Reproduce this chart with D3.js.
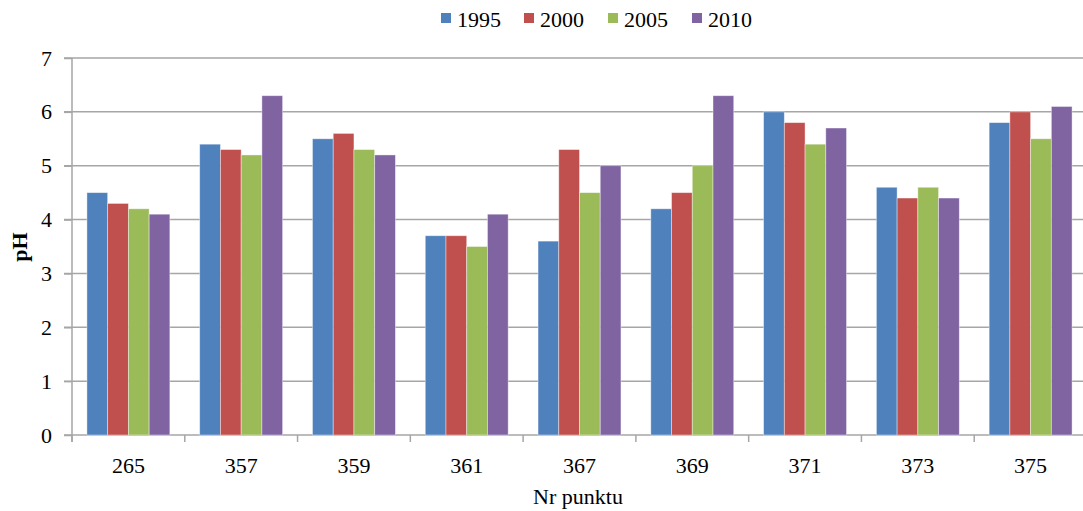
<!DOCTYPE html>
<html lang="pl">
<head>
<meta charset="UTF-8">
<title>pH</title>
<script src="https://d3js.org/d3.v7.min.js"></script>
<style>
  body { margin: 0; background: #fff; }
  svg text { font-family: "Liberation Serif", "DejaVu Serif", "Times New Roman", serif !important; fill: #000; }
</style>
</head>
<body>
<svg width="1083" height="511"></svg>
<script>
// data
const points = ["265", "357", "359", "361", "367", "369", "371", "373", "375"];
const years = ["1995", "2000", "2005", "2010"];
const v1995 = [4.5, 5.4, 5.5, 3.7, 3.6, 4.2, 6.0, 4.6, 5.8];
const v2000 = [4.3, 5.3, 5.6, 3.7, 5.3, 4.5, 5.8, 4.4, 6.0];
const v2005 = [4.2, 5.2, 5.3, 3.5, 4.5, 5.0, 5.4, 4.6, 5.5];
const v2010 = [4.1, 6.3, 5.2, 4.1, 5.0, 6.3, 5.7, 4.4, 6.1];
const yTicks = [0, 1, 2, 3, 4, 5, 6, 7];
const colors = ["#4F81BD", "#C0504D", "#9BBB59", "#8064A2"];

const series = [v1995, v2000, v2005, v2010];
const svg = d3.select("svg");
const grid = "#a6a6a6";

const x = d3.scaleBand().domain(points).range([72, 1087]).paddingInner(0).paddingOuter(0);
const inner = d3.scaleBand().domain(years).range([0, x.bandwidth()]).paddingOuter(0.72).paddingInner(0);
const y = d3.scaleLinear().domain([0, 7]).range([435, 58]);

// gridlines
svg.append("g").selectAll("line").data(yTicks).join("line")
  .attr("x1", 64).attr("x2", 1083)
  .attr("y1", d => y(d)).attr("y2", d => y(d))
  .attr("stroke", grid).attr("stroke-width", 1.5);

// bars
const groups = svg.append("g").selectAll("g").data(points).join("g")
  .attr("transform", d => `translate(${x(d)},0)`);
groups.selectAll("rect")
  .data((p, i) => years.map((yr, k) => ({ yr, k, v: series[k][i] })))
  .join("rect")
  .attr("x", d => inner(d.yr))
  .attr("width", inner.bandwidth())
  .attr("y", d => y(d.v))
  .attr("height", d => y(0) - y(d.v))
  .attr("fill", d => colors[d.k])
  .attr("stroke", "rgba(255,255,255,0.5)")
  .attr("stroke-width", 0.8);

// axes
const yAxis = svg.append("g").attr("transform", "translate(72,0)")
  .call(d3.axisLeft(y).tickValues(yTicks).tickSize(8).tickPadding(12).tickFormat(d3.format("d")));
const xAxis = svg.append("g").attr("transform", "translate(0,435)")
  .call(d3.axisBottom(x).tickSize(0).tickPadding(22));
xAxis.selectAll(".tick").append("line")
  .attr("x1", -x.bandwidth() / 2).attr("x2", -x.bandwidth() / 2)
  .attr("y1", 0).attr("y2", 7);
[yAxis, xAxis].forEach(a => {
  a.attr("font-family", null);
  a.select(".domain").attr("stroke", grid).attr("stroke-width", 1.5);
  a.selectAll("line").attr("stroke", grid).attr("stroke-width", 1.5);
  a.selectAll("text").style("font-size", "22px").attr("fill", "#000");
});
yAxis.select(".domain").attr("d", "M0,58V442");
xAxis.select(".domain").remove();
xAxis.selectAll(".tick text").attr("dy", "0.71em");

// axis titles
svg.append("text").attr("transform", "translate(27,247) rotate(-90)")
  .attr("text-anchor", "middle").style("font-size", "22px").style("font-weight", "bold").text("pH");
svg.append("text").attr("x", 578).attr("y", 504)
  .attr("text-anchor", "middle").style("font-size", "22px").text("Nr punktu");

// legend
const legX = [441, 524, 608, 692];
const leg = svg.append("g").selectAll("g").data(years).join("g")
  .attr("transform", (d, i) => `translate(${legX[i]},0)`);
leg.append("rect").attr("x", 0).attr("y", 13).attr("width", 10).attr("height", 10)
  .attr("fill", (d, i) => colors[i]);
leg.append("text").attr("x", 16).attr("y", 27).style("font-size", "22px").text(d => d);
</script>
</body>
</html>
